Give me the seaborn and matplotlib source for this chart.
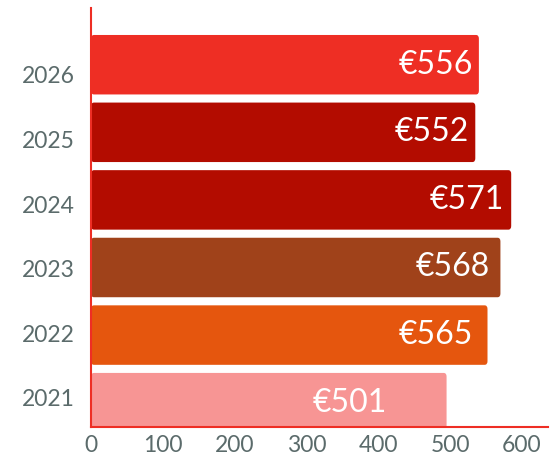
import seaborn as sns
import matplotlib.pyplot as plt
import numpy as np
import pandas as pd
from matplotlib.patches import FancyBboxPatch

# Données (longueurs, étiquettes telles qu'affichées)
years = ['2026', '2025', '2024', '2023', '2022', '2021']
values = [540, 535, 585, 570, 552, 495]
labels = ['€556', '€552', '€571', '€568', '€565', '€501']
colors = ['#EE2E24', '#B30C00', '#B30C00', '#A0421A', '#E5560E', '#F79594']
xticks = [0, 100, 200, 300, 400, 500, 600]

df = pd.DataFrame({'year': years, 'value': values})

sns.set_style('white')
plt.rcParams['font.family'] = ['Lato', 'DejaVu Sans']

fig = plt.figure(figsize=(5.59, 4.59), dpi=100)
ax = fig.add_axes([0.163, 0.0697, 0.817, 0.913])

sns.barplot(data=df, x='value', y='year', hue='year', palette=colors,
            order=years, legend=False, width=0.88, ax=ax, saturation=1)

ax.set_xlim(0, 636)
ax.set_ylim(5.36, -0.84)

# coins arrondis
for p in list(ax.patches):
    x0, y0 = p.get_x(), p.get_y()
    w, h = p.get_width(), p.get_height()
    fc = p.get_facecolor()
    p.remove()
    ax.add_patch(FancyBboxPatch((x0, y0), w, h,
                                boxstyle='round,pad=0,rounding_size=4',
                                mutation_aspect=0.0135, facecolor=fc,
                                edgecolor='none'))

# décalage des étiquettes (pixels depuis le bout de la barre)
gaps = [-6, -6, -7, -11, -15, -60]
for i, (v, lab) in enumerate(zip(values, labels)):
    ax.annotate(lab, (v, i), xytext=(gaps[i], 0), textcoords='offset pixels',
                ha='right', va='center', color='white', fontsize=23)

# les étiquettes d'années sont un peu resserrées par rapport aux barres
ax.set_yticks(np.linspace(0.15, 4.93, len(years)), years)
ax.set_xticks(xticks)
ax.tick_params(axis='both', length=0, labelsize=16.5, labelcolor='#5B6B6B')
ax.tick_params(axis='y', pad=12)
ax.tick_params(axis='x', pad=6)
ax.set_xlabel('')
ax.set_ylabel('')
for s in ['top', 'right']:
    ax.spines[s].set_visible(False)
for s in ['left', 'bottom']:
    ax.spines[s].set_color('#EE2E24')
    ax.spines[s].set_linewidth(1.5)
    ax.spines[s].set_zorder(5)

plt.savefig('out.png', dpi=100)
